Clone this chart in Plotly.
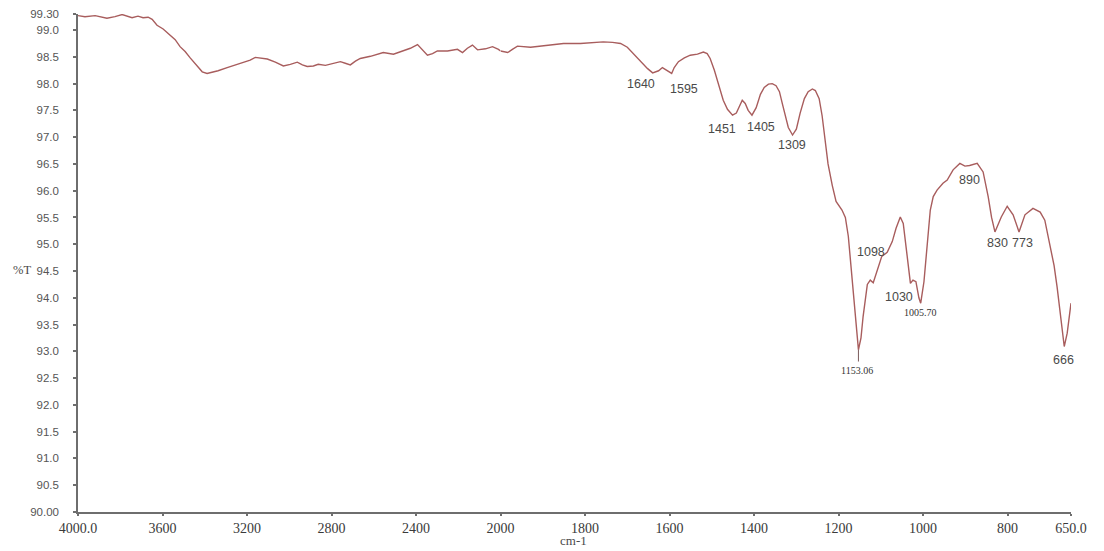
import plotly.graph_objects as go

# FTIR spectrum: wavenumber (cm-1) and transmittance (%T)
wavenumber = [
    4000, 3967, 3919, 3863, 3825, 3791, 3744, 3716, 3692, 3668, 3649, 3626, 3597,
    3564, 3540, 3517, 3493, 3469, 3441, 3412, 3389, 3365, 3337, 3294, 3256, 3218,
    3185, 3161, 3128, 3104, 3066, 3028, 2995, 2962, 2938, 2915, 2886, 2863, 2829,
    2792, 2758, 2735, 2711, 2687, 2664, 2616, 2555, 2507, 2474, 2427, 2393, 2370,
    2346, 2322, 2299, 2251, 2204, 2180, 2157, 2133, 2109, 2071, 2038, 2010, 2000,
    1983, 1972, 1960, 1929, 1905, 1882, 1851, 1811, 1780, 1757, 1735, 1716, 1700,
    1686, 1669, 1652, 1640, 1626, 1617, 1608, 1595, 1589, 1579, 1565, 1551, 1534,
    1520, 1511, 1504, 1494, 1487, 1480, 1473, 1463, 1451, 1442, 1435, 1428, 1421,
    1414, 1405, 1395, 1385, 1376, 1366, 1357, 1348, 1340, 1333, 1326, 1319, 1309,
    1300, 1291, 1281, 1272, 1262, 1255, 1246, 1239, 1232, 1225, 1215, 1206, 1192,
    1184, 1177, 1168, 1161, 1153.06, 1147, 1142, 1132, 1125, 1118, 1111, 1104, 1098,
    1085, 1073, 1064, 1054, 1047, 1040, 1030, 1024, 1017, 1010, 1005.70, 998, 991,
    983, 976, 967, 953, 943, 929, 913, 901, 890, 872, 858, 846, 838, 830, 822, 815,
    801, 787, 773, 759, 740, 723, 712, 700, 690, 683, 671, 666, 659, 650,
]
transmittance = [
    99.27, 99.25, 99.27, 99.22, 99.25, 99.29, 99.23, 99.26, 99.23, 99.24, 99.20, 99.09, 99.02,
    98.91, 98.82, 98.69, 98.60, 98.48, 98.35, 98.22, 98.19, 98.21, 98.24, 98.30, 98.35, 98.40,
    98.44, 98.49, 98.47, 98.46, 98.40, 98.33, 98.36, 98.40, 98.35, 98.32, 98.33, 98.36, 98.34,
    98.37, 98.41, 98.38, 98.35, 98.42, 98.47, 98.51, 98.58, 98.55, 98.60, 98.66, 98.73, 98.63,
    98.53, 98.56, 98.61, 98.61, 98.64, 98.58, 98.66, 98.72, 98.63, 98.65, 98.69, 98.64, 98.61,
    98.58, 98.64, 98.70, 98.68, 98.70, 98.72, 98.75, 98.75, 98.77, 98.78, 98.77, 98.75, 98.68,
    98.56, 98.42, 98.28, 98.20, 98.24, 98.30, 98.26, 98.19, 98.30, 98.41, 98.48, 98.53, 98.55,
    98.59, 98.56, 98.47, 98.25, 98.07, 97.88, 97.69, 97.52, 97.41, 97.45, 97.58, 97.69, 97.63,
    97.50, 97.41, 97.55, 97.80, 97.93, 97.99, 98.00, 97.96, 97.85, 97.62, 97.38, 97.18, 97.04,
    97.15, 97.45, 97.72, 97.85, 97.90, 97.87, 97.72, 97.40, 96.95, 96.50, 96.10, 95.80, 95.64,
    95.50, 95.15, 94.33, 93.75, 93.03, 93.25, 93.65, 94.25, 94.33, 94.28, 94.45, 94.65, 94.77,
    94.85, 95.05, 95.30, 95.51, 95.39, 94.90, 94.27, 94.33, 94.30, 94.00, 93.90, 94.30, 95.00,
    95.64, 95.89, 96.01, 96.14, 96.20, 96.39, 96.51, 96.46, 96.47, 96.51, 96.35, 95.89, 95.50,
    95.23, 95.40, 95.51, 95.71, 95.55, 95.23, 95.55, 95.67, 95.60, 95.45, 95.02, 94.60, 94.21,
    93.46, 93.09, 93.34, 93.90,
]

# Peak labels: text and the point where the text is centred (cm-1, %T)
peak_text = ["1640", "1595", "1451", "1405", "1309", "1098", "1030", "890",
             "830", "773", "666"]
peak_label_x = [1667, 1565, 1475, 1383, 1310, 1123, 1057, 891, 825, 764, 667]
peak_label_y = [97.99, 97.90, 97.15, 97.19, 96.85, 94.86, 94.01, 96.20, 95.02, 95.02, 92.84]

fine_text = ["1153.06", "1005.70"]
fine_label_x = [1156, 1007]
fine_label_y = [92.65, 93.72]

y_ticks = [90.0, 90.5, 91.0, 91.5, 92.0, 92.5, 93.0, 93.5, 94.0, 94.5, 95.0,
           95.5, 96.0, 96.5, 97.0, 97.5, 98.0, 98.5, 99.0, 99.3]
y_tick_text = ["90.00", "90.5", "91.0", "91.5", "92.0", "92.5", "93.0", "93.5",
               "94.0", "94.5", "95.0", "95.5", "96.0", "96.5", "97.0", "97.5",
               "98.0", "98.5", "99.0", "99.30"]
x_ticks_high = [4000, 3600, 3200, 2800, 2400, 2000]
x_tick_text_high = ["4000.0", "3600", "3200", "2800", "2400", "2000"]
x_ticks_low = [1800, 1600, 1400, 1200, 1000, 800, 650]
x_tick_text_low = ["1800", "1600", "1400", "1200", "1000", "800", "650.0"]

LINE = "#a85d5d"
AXIS = "#6e6e6e"
TEXT = "#4a4a4a"

# The spectrum is drawn on two x scales: 4000-2000 and a doubled scale 2000-650
hi_x = [w for w in wavenumber if w >= 2000]
hi_y = [t for w, t in zip(wavenumber, transmittance) if w >= 2000]
lo_x = [w for w in wavenumber if w <= 2000]
lo_y = [t for w, t in zip(wavenumber, transmittance) if w <= 2000]

split = 1000 / (1000 + 1350)

fig = go.Figure()
fig.add_trace(go.Scatter(x=hi_x, y=hi_y, mode="lines", xaxis="x", yaxis="y",
                         line=dict(color=LINE, width=1.4), hoverinfo="x+y"))
fig.add_trace(go.Scatter(x=lo_x, y=lo_y, mode="lines", xaxis="x2", yaxis="y",
                         line=dict(color=LINE, width=1.4), hoverinfo="x+y"))

# short marker stub under the strongest band
i_min = transmittance.index(min(transmittance))
fig.add_trace(go.Scatter(x=[wavenumber[i_min], wavenumber[i_min]],
                         y=[transmittance[i_min], transmittance[i_min] - 0.22],
                         mode="lines", xaxis="x2", yaxis="y",
                         line=dict(color="#7a5a5a", width=1), hoverinfo="skip"))

for t, x, y in zip(peak_text, peak_label_x, peak_label_y):
    fig.add_annotation(x=x, y=y, xref="x2", yref="y", text=t, showarrow=False,
                       xanchor="center", yanchor="middle",
                       font=dict(family="Liberation Sans", size=12.5, color=TEXT))
for t, x, y in zip(fine_text, fine_label_x, fine_label_y):
    fig.add_annotation(x=x, y=y, xref="x2", yref="y", text=t, showarrow=False,
                       xanchor="center", yanchor="middle",
                       font=dict(family="Liberation Serif", size=10, color="#333333"))

fig.add_annotation(x=-0.056, y=94.52, xref="paper", yref="y", text="%T",
                   showarrow=False, xanchor="center", yanchor="middle",
                   font=dict(family="Liberation Serif", size=12.5, color=TEXT))
fig.add_annotation(x=0.499, y=-0.057, xref="paper", yref="paper", text="cm-1",
                   showarrow=False, xanchor="center", yanchor="middle",
                   font=dict(family="Liberation Serif", size=13, color=TEXT))

axis_common = dict(showgrid=False, zeroline=False, showline=True, linecolor=AXIS,
                   linewidth=1.5, ticks="outside", ticklen=2, tickwidth=1.5,
                   tickcolor=AXIS, automargin=False,
                   tickfont=dict(family="Liberation Serif", size=14, color="#3a3a3a"))

fig.update_layout(
    width=1104, height=551,
    margin=dict(l=78, r=33, t=14, b=39),
    paper_bgcolor="white", plot_bgcolor="white",
    showlegend=False,
    xaxis=dict(domain=[0, split], range=[4000, 2000], anchor="y",
               tickvals=x_ticks_high, ticktext=x_tick_text_high, **axis_common),
    xaxis2=dict(domain=[split, 1], range=[2000, 650], anchor="y",
                tickvals=x_ticks_low, ticktext=x_tick_text_low, **axis_common),
    yaxis=dict(range=[90, 99.3], tickvals=y_ticks, ticktext=y_tick_text,
               showgrid=False, zeroline=False, showline=True, linecolor=AXIS,
               linewidth=1.5, ticks="outside", ticklen=3, tickwidth=1.5,
               tickcolor=AXIS, automargin=False, ticklabelstandoff=12,
               tickfont=dict(family="Liberation Sans", size=11.5, color="#555555")),
)

fig.write_html("out.html")
